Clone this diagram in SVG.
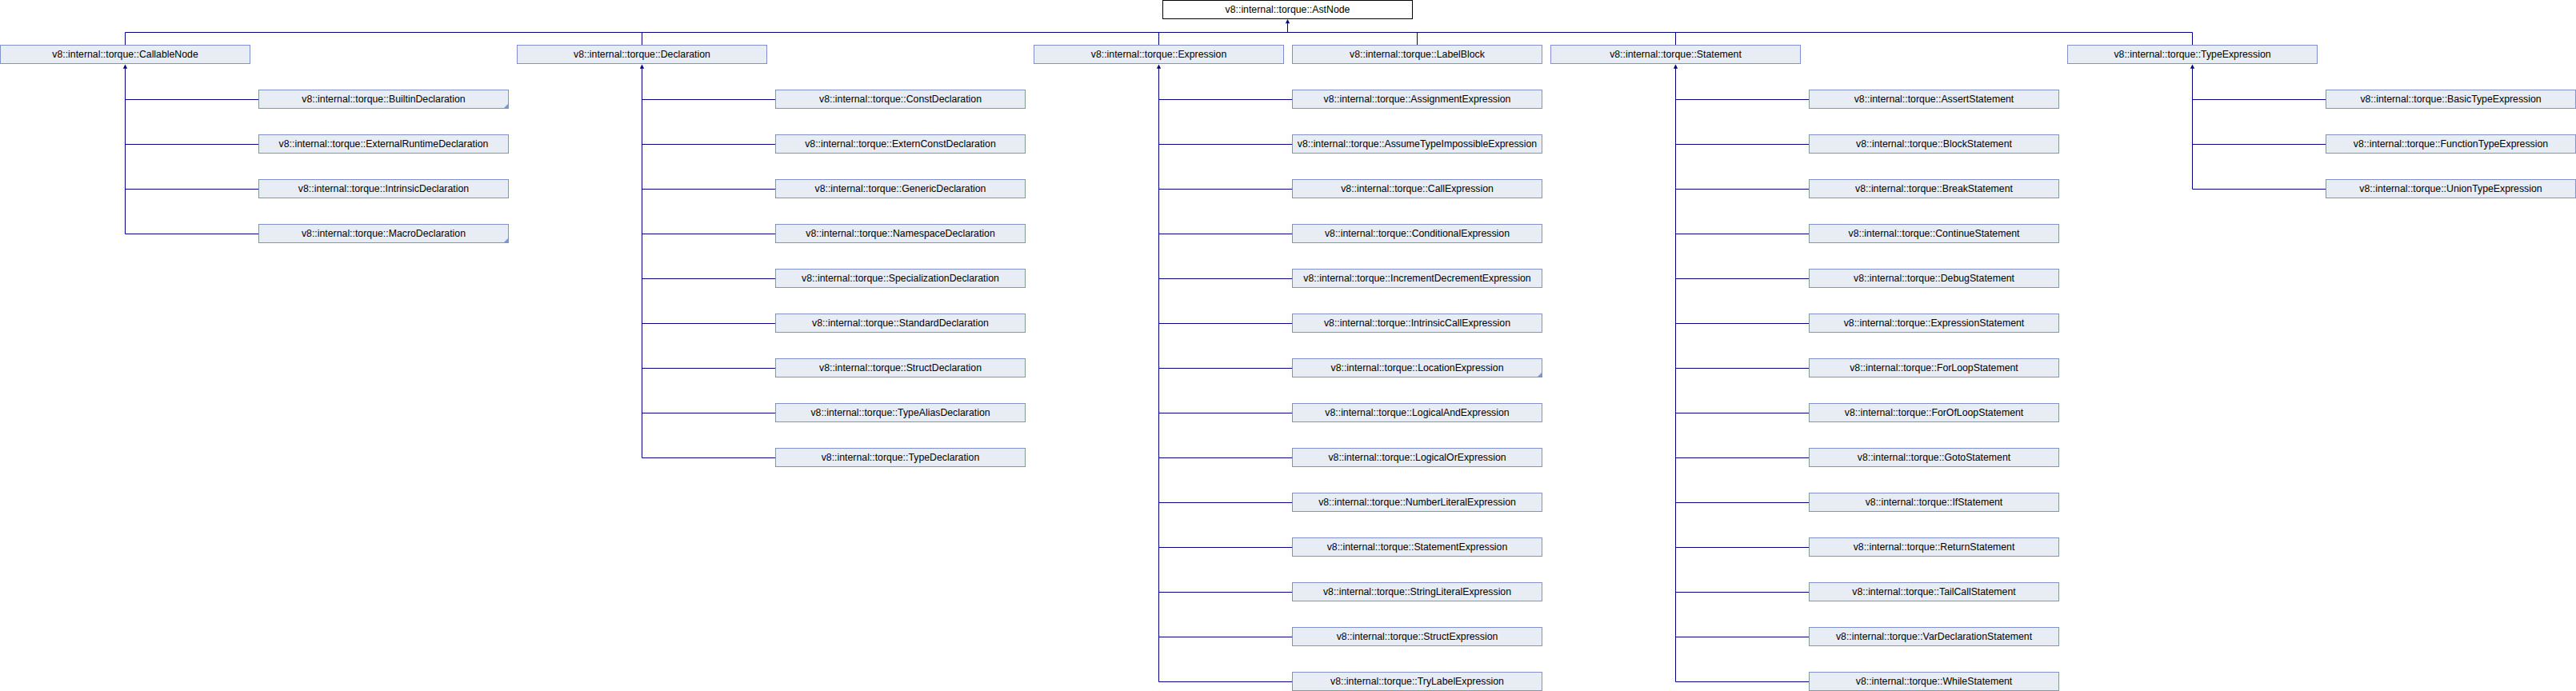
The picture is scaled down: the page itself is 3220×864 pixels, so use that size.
<svg xmlns="http://www.w3.org/2000/svg" xmlns:xlink="http://www.w3.org/1999/xlink" width="3220" height="864" viewBox="0 0 3220 864">
<style>
.bg{fill:#ffffff}
.box rect{fill:#E8ECF5;stroke:#7D93CD;stroke-width:1}
.root rect{fill:#ffffff;stroke:#000000;stroke-width:1}
.box text,.root text{font-family:"Liberation Sans",Arial,sans-serif;font-size:12.3px;fill:#000000;text-anchor:middle}
.more{fill:#7D93CD;stroke:none}
.edges path{fill:none;stroke:#000080;stroke-width:1}
.edges use{fill:#000080}
</style>
<defs>
<path id="arr" d="M0,0 L-2.6,5.2 L2.6,5.2 Z"/>
</defs>
<rect class="bg" x="0" y="0" width="3220" height="864"/>

<g id="edges" class="edges">
<path d="M1609.5,29 V40.5 M156.5,40.5 H2740.5 M156.5,40.5 V56 M802.5,40.5 V56 M1448.5,40.5 V56 M1771.5,40.5 V56 M2094.5,40.5 V56 M2740.5,40.5 V56"/>
<use xlink:href="#arr" x="1609.5" y="24"/>
<path d="M156.5,85 V292.5 M156.5,124.5 H323 M156.5,180.5 H323 M156.5,236.5 H323 M156.5,292.5 H323"/>
<use xlink:href="#arr" x="156.5" y="80.5"/>
<path d="M802.5,85 V572.5 M802.5,124.5 H969 M802.5,180.5 H969 M802.5,236.5 H969 M802.5,292.5 H969 M802.5,348.5 H969 M802.5,404.5 H969 M802.5,460.5 H969 M802.5,516.5 H969 M802.5,572.5 H969"/>
<use xlink:href="#arr" x="802.5" y="80.5"/>
<path d="M1448.5,85 V852.5 M1448.5,124.5 H1615 M1448.5,180.5 H1615 M1448.5,236.5 H1615 M1448.5,292.5 H1615 M1448.5,348.5 H1615 M1448.5,404.5 H1615 M1448.5,460.5 H1615 M1448.5,516.5 H1615 M1448.5,572.5 H1615 M1448.5,628.5 H1615 M1448.5,684.5 H1615 M1448.5,740.5 H1615 M1448.5,796.5 H1615 M1448.5,852.5 H1615"/>
<use xlink:href="#arr" x="1448.5" y="80.5"/>
<path d="M2094.5,85 V852.5 M2094.5,124.5 H2261 M2094.5,180.5 H2261 M2094.5,236.5 H2261 M2094.5,292.5 H2261 M2094.5,348.5 H2261 M2094.5,404.5 H2261 M2094.5,460.5 H2261 M2094.5,516.5 H2261 M2094.5,572.5 H2261 M2094.5,628.5 H2261 M2094.5,684.5 H2261 M2094.5,740.5 H2261 M2094.5,796.5 H2261 M2094.5,852.5 H2261"/>
<use xlink:href="#arr" x="2094.5" y="80.5"/>
<path d="M2740.5,85 V236.5 M2740.5,124.5 H2907 M2740.5,180.5 H2907 M2740.5,236.5 H2907"/>
<use xlink:href="#arr" x="2740.5" y="80.5"/>
</g>

<g id="AstNode" class="root"><rect x="1453.5" y="0.5" width="312" height="23"/><text x="1609.5" y="16">v8::internal::torque::AstNode</text></g>

<g id="CallableNode" class="box"><rect x="0.5" y="56.5" width="312" height="23"/><text x="156.5" y="72">v8::internal::torque::CallableNode</text></g>
<g id="Declaration" class="box"><rect x="646.5" y="56.5" width="312" height="23"/><text x="802.5" y="72">v8::internal::torque::Declaration</text></g>
<g id="Expression" class="box"><rect x="1292.5" y="56.5" width="312" height="23"/><text x="1448.5" y="72">v8::internal::torque::Expression</text></g>
<g id="LabelBlock" class="box"><rect x="1615.5" y="56.5" width="312" height="23"/><text x="1771.5" y="72">v8::internal::torque::LabelBlock</text></g>
<g id="Statement" class="box"><rect x="1938.5" y="56.5" width="312" height="23"/><text x="2094.5" y="72">v8::internal::torque::Statement</text></g>
<g id="TypeExpression" class="box"><rect x="2584.5" y="56.5" width="312" height="23"/><text x="2740.5" y="72">v8::internal::torque::TypeExpression</text></g>

<g id="BuiltinDeclaration" class="box"><rect x="323.5" y="112.5" width="312" height="23"/><text x="479.5" y="128">v8::internal::torque::BuiltinDeclaration</text><polygon class="more" points="635.5,129.5 635.5,135.5 629.5,135.5"/></g>
<g id="ExternalRuntimeDeclaration" class="box"><rect x="323.5" y="168.5" width="312" height="23"/><text x="479.5" y="184">v8::internal::torque::ExternalRuntimeDeclaration</text></g>
<g id="IntrinsicDeclaration" class="box"><rect x="323.5" y="224.5" width="312" height="23"/><text x="479.5" y="240">v8::internal::torque::IntrinsicDeclaration</text></g>
<g id="MacroDeclaration" class="box"><rect x="323.5" y="280.5" width="312" height="23"/><text x="479.5" y="296">v8::internal::torque::MacroDeclaration</text><polygon class="more" points="635.5,297.5 635.5,303.5 629.5,303.5"/></g>

<g id="ConstDeclaration" class="box"><rect x="969.5" y="112.5" width="312" height="23"/><text x="1125.5" y="128">v8::internal::torque::ConstDeclaration</text></g>
<g id="ExternConstDeclaration" class="box"><rect x="969.5" y="168.5" width="312" height="23"/><text x="1125.5" y="184">v8::internal::torque::ExternConstDeclaration</text></g>
<g id="GenericDeclaration" class="box"><rect x="969.5" y="224.5" width="312" height="23"/><text x="1125.5" y="240">v8::internal::torque::GenericDeclaration</text></g>
<g id="NamespaceDeclaration" class="box"><rect x="969.5" y="280.5" width="312" height="23"/><text x="1125.5" y="296">v8::internal::torque::NamespaceDeclaration</text></g>
<g id="SpecializationDeclaration" class="box"><rect x="969.5" y="336.5" width="312" height="23"/><text x="1125.5" y="352">v8::internal::torque::SpecializationDeclaration</text></g>
<g id="StandardDeclaration" class="box"><rect x="969.5" y="392.5" width="312" height="23"/><text x="1125.5" y="408">v8::internal::torque::StandardDeclaration</text></g>
<g id="StructDeclaration" class="box"><rect x="969.5" y="448.5" width="312" height="23"/><text x="1125.5" y="464">v8::internal::torque::StructDeclaration</text></g>
<g id="TypeAliasDeclaration" class="box"><rect x="969.5" y="504.5" width="312" height="23"/><text x="1125.5" y="520">v8::internal::torque::TypeAliasDeclaration</text></g>
<g id="TypeDeclaration" class="box"><rect x="969.5" y="560.5" width="312" height="23"/><text x="1125.5" y="576">v8::internal::torque::TypeDeclaration</text></g>

<g id="AssignmentExpression" class="box"><rect x="1615.5" y="112.5" width="312" height="23"/><text x="1771.5" y="128">v8::internal::torque::AssignmentExpression</text></g>
<g id="AssumeTypeImpossibleExpression" class="box"><rect x="1615.5" y="168.5" width="312" height="23"/><text x="1771.5" y="184">v8::internal::torque::AssumeTypeImpossibleExpression</text></g>
<g id="CallExpression" class="box"><rect x="1615.5" y="224.5" width="312" height="23"/><text x="1771.5" y="240">v8::internal::torque::CallExpression</text></g>
<g id="ConditionalExpression" class="box"><rect x="1615.5" y="280.5" width="312" height="23"/><text x="1771.5" y="296">v8::internal::torque::ConditionalExpression</text></g>
<g id="IncrementDecrementExpression" class="box"><rect x="1615.5" y="336.5" width="312" height="23"/><text x="1771.5" y="352">v8::internal::torque::IncrementDecrementExpression</text></g>
<g id="IntrinsicCallExpression" class="box"><rect x="1615.5" y="392.5" width="312" height="23"/><text x="1771.5" y="408">v8::internal::torque::IntrinsicCallExpression</text></g>
<g id="LocationExpression" class="box"><rect x="1615.5" y="448.5" width="312" height="23"/><text x="1771.5" y="464">v8::internal::torque::LocationExpression</text><polygon class="more" points="1927.5,465.5 1927.5,471.5 1921.5,471.5"/></g>
<g id="LogicalAndExpression" class="box"><rect x="1615.5" y="504.5" width="312" height="23"/><text x="1771.5" y="520">v8::internal::torque::LogicalAndExpression</text></g>
<g id="LogicalOrExpression" class="box"><rect x="1615.5" y="560.5" width="312" height="23"/><text x="1771.5" y="576">v8::internal::torque::LogicalOrExpression</text></g>
<g id="NumberLiteralExpression" class="box"><rect x="1615.5" y="616.5" width="312" height="23"/><text x="1771.5" y="632">v8::internal::torque::NumberLiteralExpression</text></g>
<g id="StatementExpression" class="box"><rect x="1615.5" y="672.5" width="312" height="23"/><text x="1771.5" y="688">v8::internal::torque::StatementExpression</text></g>
<g id="StringLiteralExpression" class="box"><rect x="1615.5" y="728.5" width="312" height="23"/><text x="1771.5" y="744">v8::internal::torque::StringLiteralExpression</text></g>
<g id="StructExpression" class="box"><rect x="1615.5" y="784.5" width="312" height="23"/><text x="1771.5" y="800">v8::internal::torque::StructExpression</text></g>
<g id="TryLabelExpression" class="box"><rect x="1615.5" y="840.5" width="312" height="23"/><text x="1771.5" y="856">v8::internal::torque::TryLabelExpression</text></g>

<g id="AssertStatement" class="box"><rect x="2261.5" y="112.5" width="312" height="23"/><text x="2417.5" y="128">v8::internal::torque::AssertStatement</text></g>
<g id="BlockStatement" class="box"><rect x="2261.5" y="168.5" width="312" height="23"/><text x="2417.5" y="184">v8::internal::torque::BlockStatement</text></g>
<g id="BreakStatement" class="box"><rect x="2261.5" y="224.5" width="312" height="23"/><text x="2417.5" y="240">v8::internal::torque::BreakStatement</text></g>
<g id="ContinueStatement" class="box"><rect x="2261.5" y="280.5" width="312" height="23"/><text x="2417.5" y="296">v8::internal::torque::ContinueStatement</text></g>
<g id="DebugStatement" class="box"><rect x="2261.5" y="336.5" width="312" height="23"/><text x="2417.5" y="352">v8::internal::torque::DebugStatement</text></g>
<g id="ExpressionStatement" class="box"><rect x="2261.5" y="392.5" width="312" height="23"/><text x="2417.5" y="408">v8::internal::torque::ExpressionStatement</text></g>
<g id="ForLoopStatement" class="box"><rect x="2261.5" y="448.5" width="312" height="23"/><text x="2417.5" y="464">v8::internal::torque::ForLoopStatement</text></g>
<g id="ForOfLoopStatement" class="box"><rect x="2261.5" y="504.5" width="312" height="23"/><text x="2417.5" y="520">v8::internal::torque::ForOfLoopStatement</text></g>
<g id="GotoStatement" class="box"><rect x="2261.5" y="560.5" width="312" height="23"/><text x="2417.5" y="576">v8::internal::torque::GotoStatement</text></g>
<g id="IfStatement" class="box"><rect x="2261.5" y="616.5" width="312" height="23"/><text x="2417.5" y="632">v8::internal::torque::IfStatement</text></g>
<g id="ReturnStatement" class="box"><rect x="2261.5" y="672.5" width="312" height="23"/><text x="2417.5" y="688">v8::internal::torque::ReturnStatement</text></g>
<g id="TailCallStatement" class="box"><rect x="2261.5" y="728.5" width="312" height="23"/><text x="2417.5" y="744">v8::internal::torque::TailCallStatement</text></g>
<g id="VarDeclarationStatement" class="box"><rect x="2261.5" y="784.5" width="312" height="23"/><text x="2417.5" y="800">v8::internal::torque::VarDeclarationStatement</text></g>
<g id="WhileStatement" class="box"><rect x="2261.5" y="840.5" width="312" height="23"/><text x="2417.5" y="856">v8::internal::torque::WhileStatement</text></g>

<g id="BasicTypeExpression" class="box"><rect x="2907.5" y="112.5" width="312" height="23"/><text x="3063.5" y="128">v8::internal::torque::BasicTypeExpression</text></g>
<g id="FunctionTypeExpression" class="box"><rect x="2907.5" y="168.5" width="312" height="23"/><text x="3063.5" y="184">v8::internal::torque::FunctionTypeExpression</text></g>
<g id="UnionTypeExpression" class="box"><rect x="2907.5" y="224.5" width="312" height="23"/><text x="3063.5" y="240">v8::internal::torque::UnionTypeExpression</text></g>
</svg>
